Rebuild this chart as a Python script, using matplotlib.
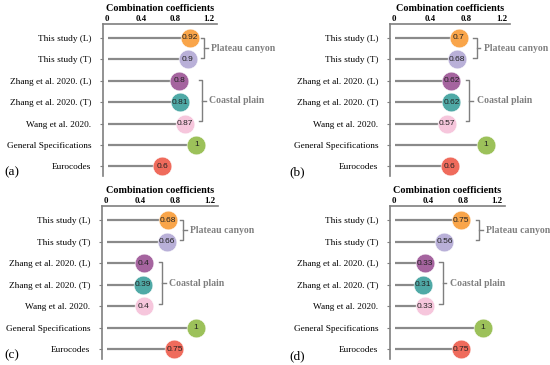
import numpy as np
import matplotlib.pyplot as plt

rows = ["This study (L)", "This study (T)", "Zhang et al. 2020. (L)", "Zhang et al. 2020. (T)",
        "Wang et al. 2020.", "General Specifications", "Eurocodes"]
vals_a = [0.92, 0.9, 0.8, 0.81, 0.87, 1, 0.6]
vals_b = [0.7, 0.68, 0.62, 0.62, 0.57, 1, 0.6]
vals_c = [0.68, 0.66, 0.4, 0.39, 0.4, 1, 0.75]
vals_d = [0.75, 0.56, 0.33, 0.31, 0.33, 1, 0.75]
xticks = [0, 0.4, 0.8, 1.2]
xtick_labels = ["0", "0.4", "0.8", "1.2"]
colors = ["#F9A54A", "#B9B0D8", "#A5649F", "#4FA9A6", "#F6C6DC", "#9CC15A", "#EF6B5C"]

SERIF = "Liberation Serif"
SANS = "Liberation Sans"
GRAY = "#7f7f7f"

fig = plt.figure(figsize=(5.5, 3.65), dpi=100)
W, H = 550, 365

def px_axes(l, t, r, b):
    return fig.add_axes([l / W, 1 - b / H, (r - l) / W, (b - t) / H])

# panel: (vals, axes box in px, circle shift, plateau bracket x, coastal bracket x, letter pos)
panels = [
    (vals_a, (103, 24, 217, 176), 0.05, 1.14, 1.12, "(a)", (4, 172)),
    (vals_b, (390, 24, 510, 176), 0.02, 0.92, 0.84, "(b)", (289, 172)),
    (vals_c, (102, 206, 218, 359), 0.04, 0.89, 0.65, "(c)", (4, 355)),
    (vals_d, (390, 206, 505, 359), 0.03, 0.99, 0.57, "(d)", (289, 356)),
]

for vals, box, shift, bx_p, bx_c, letter, lpos in panels:
    ax = px_axes(*box)
    y = np.arange(len(rows))
    for i, v in enumerate(vals):
        ax.plot([0.02, v + shift], [i, i], color="#8a8a8a", lw=1.6, zorder=1,
                solid_capstyle="butt")
        ax.plot(v + shift, i, "o", ms=13.5, color=colors[i], mec="white", mew=0.4, zorder=2)
        ax.text(v + shift, i, f"{v:g}", ha="center", va="center", fontsize=6,
                family=SANS, color="#222222", zorder=3)
    ax.set_xlim(-0.04, 1.29)
    ax.set_ylim(6.45, -0.65)
    ax.set_yticks(y)
    ax.set_yticklabels(rows, family=SERIF, fontsize=6.7)
    ax.xaxis.tick_top()
    ax.set_xticks(xticks)
    ax.set_xticklabels(xtick_labels, family=SERIF, fontsize=6.3, fontweight="bold")
    ax.tick_params(axis="y", length=2, width=0.8, color=GRAY, pad=6.5)
    ax.tick_params(axis="x", length=0, pad=1)
    for s in ["right", "bottom"]:
        ax.spines[s].set_visible(False)
    for s in ["left", "top"]:
        ax.spines[s].set_color(GRAY)
        ax.spines[s].set_linewidth(1.2)
    ax.annotate("Combination coefficients", xy=(0.5, 1), xycoords="axes fraction",
                xytext=(0, 8), textcoords="offset points", ha="center", va="bottom",
                family=SERIF, fontweight="bold", fontsize=7.3)

    # group brackets
    for bx, y0, y1, label in [(bx_p, 0.0, 0.95, "Plateau canyon"), (bx_c, 1.95, 3.9, "Coastal plain")]:
        ym = (y0 + y1) / 2
        ax.plot([bx - 0.04, bx, bx, bx - 0.04], [y0, y0, y1, y1], color=GRAY, lw=1.0,
                clip_on=False)
        ax.plot([bx, bx + 0.04], [ym, ym], color=GRAY, lw=1.0, clip_on=False)
        ax.text(bx + 0.08, ym, label, ha="left", va="center", family=SERIF,
                fontweight="bold", fontsize=7, color=GRAY, clip_on=False)

    fig.text(lpos[0] / W, 1 - lpos[1] / H, letter, ha="left", va="center",
             family=SERIF, fontsize=9.5)

fig.savefig("out.png", dpi=100)
